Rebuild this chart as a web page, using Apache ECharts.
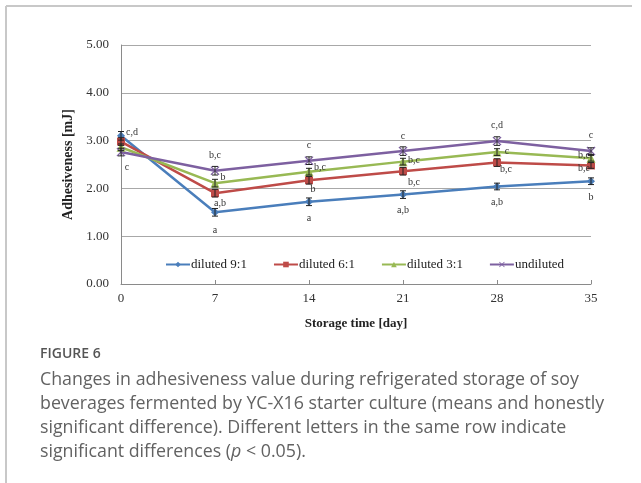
<!DOCTYPE html>
<html>
<head>
<meta charset="utf-8">
<script src="https://cdn.jsdelivr.net/npm/echarts@6/dist/echarts.min.js"></script>
<style>
  html, body { margin: 0; padding: 0; background: #fff; }
  #chart { width: 641px; height: 483px; }
</style>
</head>
<body>
<div id="chart"></div>
<script>
// storage days and values
var days = [0, 7, 14, 21, 28, 35];
var seriesNames = ['diluted 9:1', 'diluted 6:1', 'diluted 3:1', 'undiluted'];
var diluted91 = [3.10, 1.50, 1.72, 1.87, 2.04, 2.15];
var diluted61 = [2.98, 1.90, 2.17, 2.36, 2.54, 2.48];
var diluted31 = [2.86, 2.11, 2.35, 2.56, 2.76, 2.63];
var undiluted = [2.76, 2.37, 2.58, 2.78, 2.99, 2.78];

// error bar half-widths
var err91 = [0.09, 0.08, 0.08, 0.08, 0.07, 0.07];
var err61 = [0.08, 0.08, 0.08, 0.08, 0.08, 0.06];
var err31 = [0.07, 0.08, 0.07, 0.07, 0.07, 0.06];
var errUn = [0.08, 0.09, 0.08, 0.09, 0.09, 0.07];

// significance letters
var letters91 = ['c,d', 'a', 'a', 'a,b', 'a,b', 'b'];
var letters61 = ['', 'a,b', 'b', 'b,c', 'b,c', 'b,e'];
var letters31 = ['', 'b', 'b,c', 'b,c', 'c', 'b,c'];
var lettersUn = ['c', 'b,c', 'c', 'c', 'c,d', 'c'];

var yTicks = [0, 1, 2, 3, 4, 5];

var captionTitle = 'FIGURE 6';
var captionLines = [
  'Changes in adhesiveness value during refrigerated storage of soy',
  'beverages fermented by YC-X16 starter culture (means and honestly',
  'significant difference). Different letters in the same row indicate',
  'significant differences ({i|p} < 0.05).'
];

// label offsets in px (layout only)
var off91 = [[11, -3], [0, 18], [0, 17], [0, 16], [0, 16], [0, 16]];
var off61 = [[0, 0], [5, 10], [4, 9], [11, 11], [9, 7], [-7, 3]];
var off31 = [[0, 0], [8, -6], [11, -4], [11, -1], [10, -1], [-7, -3]];
var offUn = [[6, 15], [0, -15], [0, -15], [0, -15], [0, -16], [0, -16]];

var colors = ['#4A7EBB', '#BE4B48', '#98B954', '#7D60A0'];
var symbols = [
  'diamond',
  'rect',
  'triangle',
  'path://M0,1L1,0L5,4L9,0L10,1L6,5L10,9L9,10L5,6L1,10L0,9L4,5Z'
];
var symbolSizes = [8, 8, 9, 9];

var values = [diluted91, diluted61, diluted31, undiluted];
var errs = [err91, err61, err31, errUn];
var letters = [letters91, letters61, letters31, lettersUn];
var offsets = [off91, off61, off31, offUn];

var serif = '"Liberation Serif", "DejaVu Serif", serif';
var sans = '"Open Sans", "Noto Sans", sans-serif';

var chart = echarts.init(document.getElementById('chart'));

function makeErrRenderer(k) {
  return function (params, api) {
    var x = api.value(0), y = api.value(1), e = api.value(2), i = api.value(3);
    var hi = api.coord([x, y + e]);
    var lo = api.coord([x, y - e]);
    var pt = api.coord([x, y]);
    var cap = 3;
    var st = { stroke: '#222', lineWidth: 1 };
    var children = [
      { type: 'line', shape: { x1: hi[0], y1: hi[1], x2: lo[0], y2: lo[1] }, style: st },
      { type: 'line', shape: { x1: hi[0] - cap, y1: hi[1], x2: hi[0] + cap, y2: hi[1] }, style: st },
      { type: 'line', shape: { x1: lo[0] - cap, y1: lo[1], x2: lo[0] + cap, y2: lo[1] }, style: st }
    ];
    var txt = letters[k][i];
    if (txt) {
      var o = offsets[k][i];
      children.push({
        type: 'text',
        style: {
          text: txt, x: pt[0] + o[0], y: pt[1] + o[1],
          align: 'center', verticalAlign: 'middle',
          font: '10px ' + serif, fill: '#333'
        }
      });
    }
    return { type: 'group', children: children };
  };
}

var series = [];
seriesNames.forEach(function (name, k) {
  series.push({
    name: name,
    type: 'line',
    data: days.map(function (d, i) { return [d, values[k][i]]; }),
    symbol: symbols[k],
    symbolSize: symbolSizes[k],
    showAllSymbol: true,
    lineStyle: { color: colors[k], width: 2.5 },
    itemStyle: { color: colors[k] },
    z: 3,
    animation: false
  });
});
seriesNames.forEach(function (name, k) {
  series.push({
    type: 'custom',
    renderItem: makeErrRenderer(k),
    data: days.map(function (d, i) { return [d, values[k][i], errs[k][i], i]; }),
    z: 4,
    silent: true,
    animation: false
  });
});

var graphics = [
  { type: 'line', shape: { x1: 6, y1: 6, x2: 632, y2: 6 }, style: { stroke: '#c8c8c8', lineWidth: 2 } },
  { type: 'line', shape: { x1: 6, y1: 6, x2: 6, y2: 483 }, style: { stroke: '#c8c8c8', lineWidth: 2 } },
  {
    type: 'text', left: 40, top: 347,
    style: { text: captionTitle, font: '600 14px ' + sans, fill: '#555' }
  }
];
captionLines.forEach(function (line, i) {
  graphics.push({
    type: 'text', left: 40, top: 371 + i * 24,
    style: {
      text: line, font: '17.8px ' + sans, fill: '#626262',
      rich: { i: { font: 'italic 17.8px ' + sans, fill: '#626262' } }
    }
  });
});

chart.setOption({
  animation: false,
  backgroundColor: '#fff',
  color: colors,
  grid: { left: 121, right: 50, top: 45, bottom: 199 },
  legend: {
    data: seriesNames,
    left: 160,
    top: 253,
    itemWidth: 24,
    itemHeight: 7,
    itemGap: 26,
    textStyle: { fontFamily: serif, fontSize: 13, color: '#222', padding: [0, 0, 0, -4] }
  },
  xAxis: {
    type: 'value',
    min: 0, max: 35, interval: 7,
    name: 'Storage time [day]',
    nameLocation: 'middle',
    nameGap: 33,
    nameTextStyle: { fontFamily: serif, fontSize: 13, fontWeight: 'bold', color: '#222' },
    axisLine: { show: true, lineStyle: { color: '#8a8a8a', width: 1 } },
    axisTick: { show: true, inside: true, length: 4, lineStyle: { color: '#8a8a8a' } },
    axisLabel: { fontFamily: serif, fontSize: 13, color: '#333', margin: 8 },
    splitLine: { show: false }
  },
  yAxis: {
    type: 'value',
    min: 0, max: 5, interval: 1,
    name: 'Adhesiveness [mJ]',
    nameLocation: 'middle',
    nameGap: 46,
    nameTextStyle: { fontFamily: serif, fontSize: 14, fontWeight: 'bold', color: '#222' },
    axisLine: { show: true, lineStyle: { color: '#8a8a8a', width: 1 } },
    axisTick: { show: false },
    axisLabel: {
      fontFamily: serif, fontSize: 13, color: '#333', margin: 12,
      formatter: function (v) { return yTicks.indexOf(v) >= 0 ? v.toFixed(2) : ''; }
    },
    splitLine: { show: true, lineStyle: { color: '#a8a8a8', width: 1 } }
  },
  series: series,
  graphic: graphics
});
</script>
</body>
</html>
